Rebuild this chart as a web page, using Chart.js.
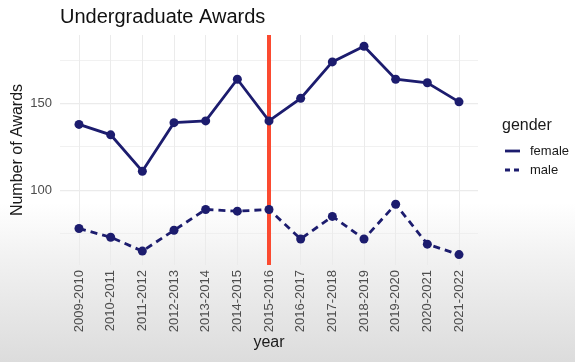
<!DOCTYPE html>
<html><head><meta charset="utf-8">
<script src="https://cdn.jsdelivr.net/npm/chart.js@4"></script>
<style>
html,body{margin:0;padding:0;width:575px;height:362px;overflow:hidden;}
body{background:linear-gradient(to bottom,#ffffff 0%,#ffffff 56%,#f1f1f1 72%,#dcdcdc 100%);}
canvas{display:block;}
</style></head><body>
<canvas id="c" width="575" height="362"></canvas>
<script>
const years = ['2009-2010','2010-2011','2011-2012','2012-2013','2013-2014','2014-2015','2015-2016','2016-2017','2017-2018','2018-2019','2019-2020','2020-2021','2021-2022'];
const female = [138,132,111,139,140,164,140,153,174,183,164,162,151];
const male = [78,73,65,77,89,88,89,72,85,72,92,69,63];
const yTicks = [75,100,125,150,175];
const markerYear = '2015-2016';
const chartTitle = 'Undergraduate Awards';
const legendTitle = 'gender';
const seriesNames = ['female','male'];

const NAVY = '#1c1c6e';
const FONT = '"Liberation Sans", Arial, Helvetica, sans-serif';

const toPts = arr => arr.map((v,i)=>({x:i,y:v}));

const extras = {
  id:'extras',
  beforeDatasetsDraw(chart){
    const {ctx, chartArea, scales} = chart;
    const x = scales.x.getPixelForValue(years.indexOf(markerYear));
    ctx.save();
    ctx.strokeStyle = '#fb4a30';
    ctx.lineWidth = 4;
    ctx.beginPath();
    ctx.moveTo(x, chartArea.top);
    ctx.lineTo(x, chartArea.bottom);
    ctx.stroke();
    ctx.restore();
  },
  afterDraw(chart){
    const {ctx} = chart;
    ctx.save();
    ctx.fillStyle = '#111';
    ctx.font = '20px ' + FONT;
    ctx.textBaseline = 'middle';
    ctx.textAlign = 'left';
    ctx.fillText(chartTitle, 60, 17);
    // legend
    ctx.fillStyle = '#1a1a1a';
    ctx.font = '16px ' + FONT;
    ctx.fillText(legendTitle, 502, 126);
    ctx.font = '13px ' + FONT;
    const rows = [{y:151, dash:[]},{y:170, dash:[5,4]}];
    rows.forEach((r,i)=>{
      ctx.strokeStyle = NAVY;
      ctx.lineWidth = 2.8;
      ctx.setLineDash(r.dash);
      ctx.beginPath();
      ctx.moveTo(505, r.y);
      ctx.lineTo(520, r.y);
      ctx.stroke();
      ctx.setLineDash([]);
      ctx.fillStyle = '#1a1a1a';
      ctx.fillText(seriesNames[i], 530, r.y);
    });
    ctx.restore();
  }
};

new Chart(document.getElementById('c'), {
  type:'line',
  data:{
    datasets:[
      {label:seriesNames[0], data:toPts(female), borderColor:NAVY, backgroundColor:NAVY, borderWidth:2.8, pointRadius:4.5, pointBackgroundColor:NAVY, pointBorderWidth:0, tension:0},
      {label:seriesNames[1], data:toPts(male), borderColor:NAVY, backgroundColor:NAVY, borderWidth:2.8, borderDash:[7,5], pointRadius:4.5, pointBackgroundColor:NAVY, pointBorderWidth:0, tension:0}
    ]
  },
  options:{
    responsive:false,
    animation:false,
    devicePixelRatio:1,
    layout:{padding:{left:0,right:97,top:35,bottom:0}},
    plugins:{legend:{display:false}, title:{display:false}, tooltip:{enabled:false}},
    scales:{
      x:{
        type:'linear', min:-0.6, max:12.6,
        afterBuildTicks: s => { s.ticks = years.map((_,i)=>({value:i})); },
        afterFit: s => { s.height = 97; },
        ticks:{callback: v => years[v], minRotation:90, maxRotation:90, autoSkip:false, color:'#4d4d4d', font:{family:FONT, size:13}, padding:5},
        grid:{color:'#ebebeb', lineWidth:1, drawTicks:false},
        border:{display:false},
        title:{display:true, text:'year', color:'#1a1a1a', font:{family:FONT, size:16}, padding:{top:10,bottom:10}}
      },
      y:{
        min:57, max:189.5,
        afterBuildTicks: s => { s.ticks = yTicks.map(v=>({value:v})); },
        afterFit: s => { s.width = 60; },
        ticks:{callback: v => (v % 50 === 0 ? String(v) : ''), color:'#4d4d4d', font:{family:FONT, size:13}, padding:8},
        grid:{color:'#ebebeb', lineWidth: c => (c.tick && c.tick.value % 50 === 0 ? 1.2 : 0.7), drawTicks:false},
        border:{display:false},
        title:{display:true, text:'Number of Awards', color:'#1a1a1a', font:{family:FONT, size:16}, padding:{top:8,bottom:8}}
      }
    }
  },
  plugins:[extras]
});
</script>
</body></html>
